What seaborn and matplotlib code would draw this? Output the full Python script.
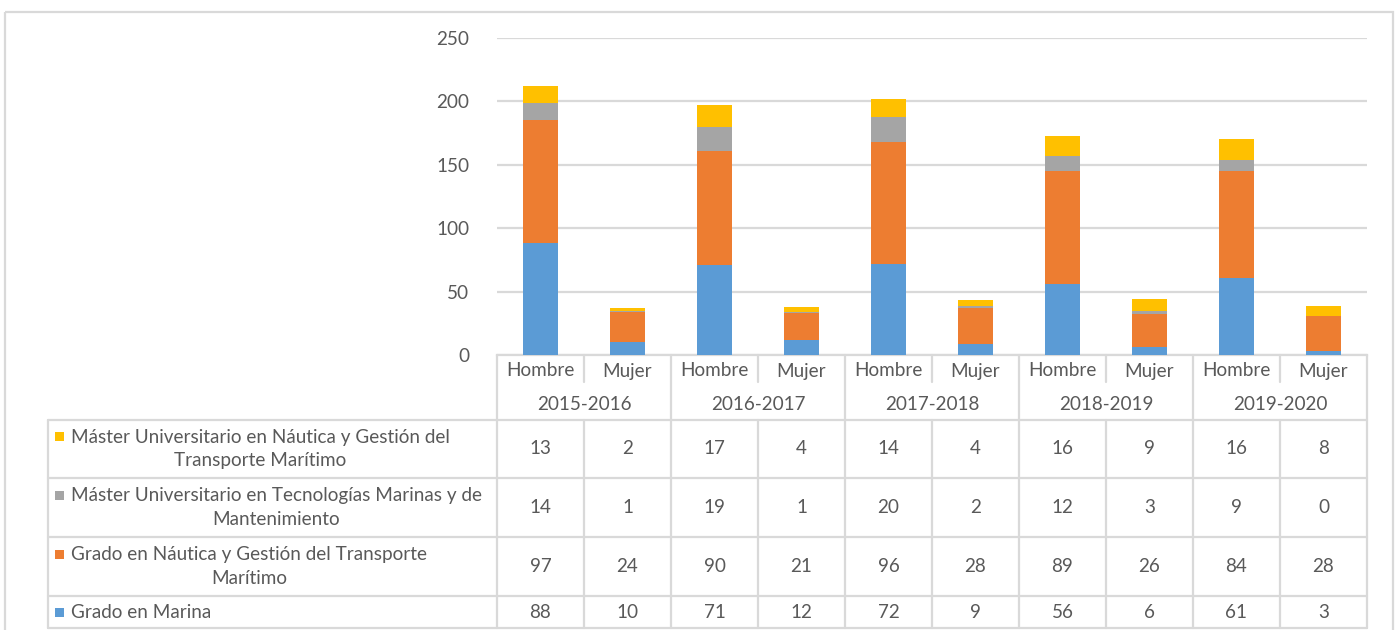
import pandas as pd
import numpy as np
import matplotlib
matplotlib.use("Agg")
import matplotlib.pyplot as plt
import seaborn as sns
from matplotlib.patches import Rectangle

years = ["2015-2016", "2016-2017", "2017-2018", "2018-2019", "2019-2020"]
sexes = ["Hombre", "Mujer"]
series_names = [
    "Máster Universitario en Náutica y Gestión del\nTransporte Marítimo",
    "Máster Universitario en Tecnologías Marinas y de\nMantenimiento",
    "Grado en Náutica y Gestión del Transporte\nMarítimo",
    "Grado en Marina",
]
master_nautica = [13, 2, 17, 4, 14, 4, 16, 9, 16, 8]
master_tecno = [14, 1, 19, 1, 20, 2, 12, 3, 9, 0]
grado_nautica = [97, 24, 90, 21, 96, 28, 89, 26, 84, 28]
grado_marina = [88, 10, 71, 12, 72, 9, 56, 6, 61, 3]
colors = ["#FFC000", "#A5A5A5", "#ED7D31", "#5B9BD5"]

# long table for seaborn
cats = [f"{y} {s}" for y in years for s in sexes]
df = pd.DataFrame({
    "cat": cats,
    "marina": grado_marina,
    "grado_nautica": grado_nautica,
    "master_tecno": master_tecno,
    "master_nautica": master_nautica,
})
df["c1"] = df["marina"]
df["c2"] = df["c1"] + df["grado_nautica"]
df["c3"] = df["c2"] + df["master_tecno"]
df["c4"] = df["c3"] + df["master_nautica"]

sns.set_theme(style="white")
plt.rcParams["font.family"] = ["Lato", "DejaVu Sans"]
txt_color = "#595959"
line_color = "#D9D9D9"
fs = 13.6

W, H = 1399, 630
fig = plt.figure(figsize=(W / 100, H / 100), dpi=100)

x0, x1, y_top, y_zero = 497, 1367, 38, 355
ax = fig.add_axes([x0 / W, (H - y_zero) / H, (x1 - x0) / W, (y_zero - y_top) / H])

# stacked bars: draw cumulative totals from the top down
for col, c in zip(["c4", "c3", "c2", "c1"], colors):
    sns.barplot(data=df, x="cat", y=col, order=cats, color=c, saturation=1,
                width=0.4, ax=ax, zorder=3, linewidth=0, edgecolor=c)

ax.set_xlim(-0.5, len(cats) - 0.5)
ax.set_ylim(0, 250)
ax.set_yticks([0, 50, 100, 150, 200, 250])
ax.yaxis.grid(True, color=line_color, lw=1.6, zorder=0)
ax.set_axisbelow(True)
for s in ["top", "right", "left"]:
    ax.spines[s].set_visible(False)
ax.spines["bottom"].set_color(line_color)
ax.spines["bottom"].set_linewidth(1.6)
ax.set_xticks([])
ax.set_xlabel("")
ax.set_ylabel("")
ax.tick_params(axis="y", length=0, labelsize=fs, labelcolor=txt_color, pad=20)

# overlay for category axis, data table and outer frame (pixel coords)
ov = fig.add_axes([0, 0, 1, 1], zorder=5)
ov.set_xlim(0, W)
ov.set_ylim(H, 0)
ov.axis("off")
ov.patch.set_alpha(0)

ov.add_patch(Rectangle((5, 12), 1388, 640, fill=False, ec=line_color, lw=1.6))

colw = (x1 - x0) / len(cats)
rows = [(420, 478), (478, 537), (537, 596), (596, 628)]
tab_left = 48
lw = 1.6

# category axis boxes
for i in range(len(cats) + 1):
    xx = x0 + i * colw
    if i % 2 == 0:
        ov.plot([xx, xx], [355, 628], color=line_color, lw=lw)
    else:
        ov.plot([xx, xx], [355, 382], color=line_color, lw=lw)
        ov.plot([xx, xx], [420, 628], color=line_color, lw=lw)
for i, c in enumerate(cats):
    ov.text(x0 + (i + 0.5) * colw, 371, sexes[i % 2], ha="center", va="center",
            fontsize=fs, color=txt_color)
for j, y in enumerate(years):
    ov.text(x0 + (2 * j + 1) * colw, 405, y, ha="center", va="center",
            fontsize=fs, color=txt_color)

# data table
for ya, yb in rows:
    ov.plot([tab_left, x1], [ya, ya], color=line_color, lw=lw)
ov.plot([tab_left, x1], [rows[-1][1], rows[-1][1]], color=line_color, lw=lw)
ov.plot([tab_left, tab_left], [420, 628], color=line_color, lw=lw)

table_vals = [master_nautica, master_tecno, grado_nautica, grado_marina]
for (ya, yb), name, vals, c in zip(rows, series_names, table_vals, colors):
    ym = (ya + yb) / 2
    ov.add_patch(Rectangle((55, ym - 4.5 - (12.5 if "\n" in name else 0)), 9, 9,
                           color=c, lw=0))
    ov.text(71, ym, name, ha="left", va="center", multialignment="center",
            fontsize=fs, color=txt_color, linespacing=1.45)
    for i, v in enumerate(vals):
        ov.text(x0 + (i + 0.5) * colw, ym, str(v), ha="center", va="center",
                fontsize=fs, color=txt_color)

fig.savefig("out.png", dpi=100, facecolor="white")
